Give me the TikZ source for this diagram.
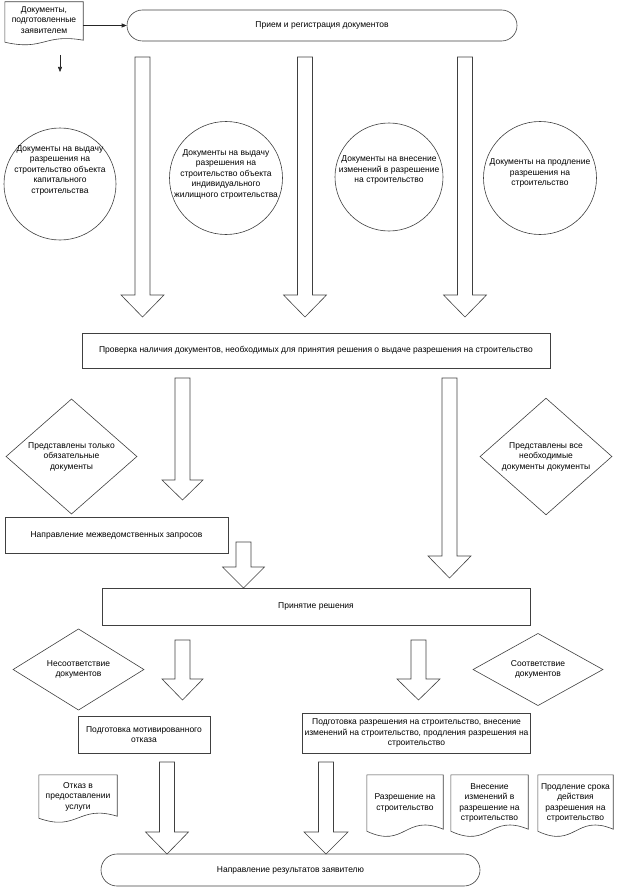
\documentclass[tikz,border=0pt]{standalone}
\usepackage{fontspec}
\setmainfont{Liberation Sans}
\usetikzlibrary{arrows.meta,shapes.geometric,calc}
\newcommand\bkarrow[6]{\draw[shp] ({#1-#5},#2) -- ({#1+#5},#2) -- ({#1+#5},#3) -- ({#1+#6},#3) -- (#1,#4) -- ({#1-#6},#3) -- ({#1-#5},#3) -- cycle;}
\newcommand\docwave[2]{\draw[shp] (#1.south west) -- (#1.north west) -- (#1.north east) -- ($(#1.south east)+(0,-2)$) .. controls ($(#1.south)+(0,-#2)$) and ($(#1.south)+(0,#2)$) .. (#1.south west) -- cycle;}
\tikzset{
  shp/.style={draw=black!75, line width=0.6pt},
  box/.style={shp, rectangle, align=center, inner sep=2pt},
  stad/.style={shp, rectangle, rounded corners=15.5pt},
  circ/.style={shp, circle, inner sep=0pt},
  dia/.style={shp, diamond, inner sep=0pt, align=center},
  txt/.style={align=center, inner sep=0pt},
  docn/.style={rectangle, inner sep=0pt, align=center},
  con/.style={draw=black!85, line width=0.6pt, -{Triangle[length=5pt,width=4pt]}}
}
\begin{document}
\begin{tikzpicture}[x=1pt,y=-1pt,font=\fontsize{8.5}{10.5}\selectfont]
\useasboundingbox (0,0) rectangle (618,888);
% top
\node[docn, minimum width=78pt, minimum height=40pt, text depth=4pt] (d0) at (44,22) {Документы,\\подготовленные\\заявителем};
\docwave{d0}{9}
\node[stad, minimum width=390pt, minimum height=31pt] (reg) at (322,25.5) {Прием и регистрация документов};
\draw[con] (d0.east |- reg.west) -- (reg.west);
\coordinate (s1) at (60,55);
\coordinate (s2) at (60,72);
\draw[con] (s1) -- (s2);
% block arrows from registration
\bkarrow{142.5}{57}{295}{317}{7.5}{21.5}
\bkarrow{305}{57}{295}{317}{7.5}{21.5}
\bkarrow{465}{57}{295}{317}{7.5}{21.5}
% circles
\node[circ, minimum size=112pt] (c1) at (60,184) {};
\node[txt] (c1t) at (60,170) {Документы на выдачу\\разрешения на\\строительство объекта\\капитального\\строительства};
\node[circ, minimum size=113pt] (c2) at (226,178) {};
\node[txt] (c2t) at (226,174) {Документы на выдачу\\разрешения на\\строительство объекта\\индивидуального\\жилищного строительства};
\node[circ, minimum size=108pt] (c3) at (389,177) {};
\node[txt] (c3t) at (389,170) {Документы на внесение\\изменений в разрешение\\на строительство};
\node[circ, minimum size=113pt] (c4) at (540,178) {};
\node[txt] (c4t) at (540,173) {Документы на продление\\разрешения на\\строительство};
% check
\node[box, minimum width=468pt, minimum height=35pt] (chk) at (316,350.5) {Проверка наличия документов, необходимых для принятия решения о выдаче разрешения на строительство};
\bkarrow{182.5}{378}{480}{500}{7.5}{20.5}
\bkarrow{449.5}{378}{556}{578}{7.5}{21.5}
\node[dia, minimum width=131pt, minimum height=107pt] (dL) at (71.5,456.5) {Представлены только\\обязательные\\документы};
\node[dia, minimum width=132pt, minimum height=107pt] (dR) at (546,456.5) {Представлены все\\необходимые\\документы документы};
% requests
\node[box, minimum width=223pt, minimum height=36pt] (mq) at (116.5,535) {Направление межведомственных запросов};
\bkarrow{243.5}{542}{567}{588}{7.5}{21}
% decision
\node[box, minimum width=428pt, minimum height=37pt] (dec) at (316,606.5) {Принятие решения};
\bkarrow{182.5}{640}{679}{700}{7.5}{20.5}
\bkarrow{418.5}{640}{679}{700}{7.5}{21.5}
\node[dia, minimum width=131pt, minimum height=63pt] (dN) at (78.5,669.5) {Несоответствие\\документов};
\node[dia, minimum width=130pt, minimum height=63pt] (dS) at (538,669.5) {Соответствие\\документов};
% preparation
\node[box, minimum width=132pt, minimum height=37pt] (ref) at (144,734.5) {Подготовка мотивированного\\отказа};
\node[box, minimum width=227pt, minimum height=40pt] (per) at (416.5,733) {Подготовка разрешения на строительство, внесение\\изменений на строительство, продления разрешения на\\строительство};
\bkarrow{167}{762}{832}{854}{7.5}{21.5}
\bkarrow{326}{762}{832}{854}{7.5}{22}
% final
\node[stad, rounded corners=16pt, minimum width=379pt, minimum height=32pt] (fin) at (290.5,870) {Направление результатов заявителю};
% result documents
\node[docn, minimum width=78pt, minimum height=43pt] (r1) at (78,796.5) {Отказ в\\предоставлении\\услуги};
\docwave{r1}{14}
\node[docn, minimum width=76pt, minimum height=56pt] (r2) at (405,803) {Разрешение на\\строительство};
\docwave{r2}{18}
\node[docn, minimum width=77pt, minimum height=56pt] (r3) at (489.5,803) {Внесение\\изменений в\\разрешение на\\строительство};
\docwave{r3}{18}
\node[docn, minimum width=75pt, minimum height=56pt] (r4) at (575.5,803) {Продление срока\\действия\\разрешения на\\строительство};
\docwave{r4}{18}
\end{tikzpicture}
\end{document}
